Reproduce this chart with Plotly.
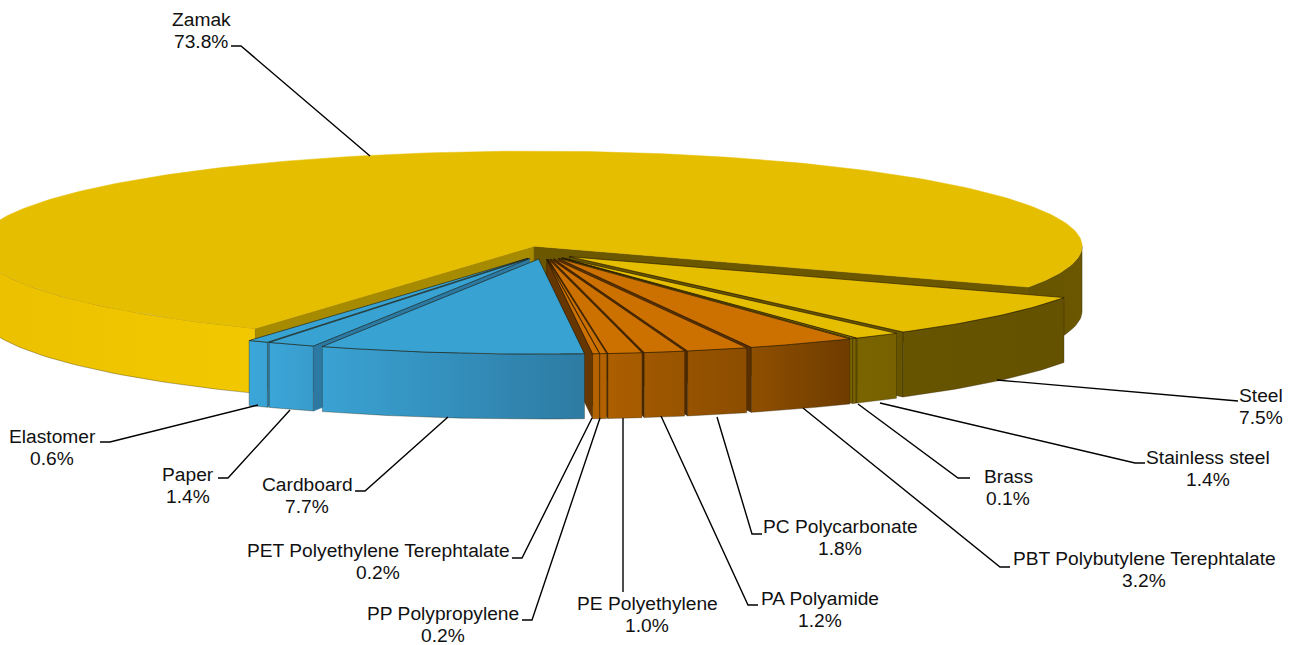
import math
import plotly.graph_objects as go

# ---- data ----
names = ["Zamak", "Steel", "Stainless steel", "Brass", "PBT Polybutylene Terephtalate",
         "PC Polycarbonate", "PA Polyamide", "PE Polyethylene", "PP Polypropylene",
         "PET Polyethylene Terephtalate", "Cardboard", "Paper", "Elastomer"]
values = [73.8, 7.5, 1.4, 0.1, 3.2, 1.8, 1.2, 1.0, 0.2, 0.2, 7.7, 1.4, 0.6]

# ---- styles: top, wall-left, wall-right, side face ----
Y = "#E6BE00"; O = "#CC7000"; B = "#38A3D3"
styles = [
    (Y, None, None, None),
    (Y, "#675400", "#645200", "#675400"),
    (Y, "#7A6400", "#786200", "#7A6400"),
    (Y, "#7C6500", "#7A6300", "#7A6400"),
    (O, "#8F4F00", "#6E3C00", "#5A3000"),
    (O, "#965300", "#8C4D00", "#4F2A00"),
    (O, "#A05800", "#985400", "#4F2A00"),
    (O, "#AD5F00", "#A65B00", "#5A3000"),
    (O, "#B36200", "#B06000", "#5A3000"),
    (O, "#B66400", "#B36200", "#653600"),
    (B, "#3AA2D3", "#2D7BA3", "#2C7AA3"),
    (B, "#3BA6D9", "#389CCB", "#2C7AA3"),
    (B, "#3BA6D9", "#3AA3D5", "#2C7AA3"),
]
draw_order = [0, 1, 2, 3, 4, 5, 6, 7, 8, 9, 12, 11, 10]

# ---- layout geometry of the drawing (pixels) ----
CX, CY, RX_R, RX_L, RY, DEPTH = 543.8, 252.5, 548, 556, 95, 65
EXPLODE_X, EXPLODE_Y = 0.06, 0.07
FIRST_END = 25.5      # angle, clockwise from +x, at which Zamak ends

# leader polylines and label centres
leaders = {
    "Zamak": ([(370, 156), (241, 46), (231, 46)], (201, 30)),
    "Steel": ([(997, 380), (1238, 401)], (1261, 406)),
    "Stainless steel": ([(880, 403), (1135, 463), (1145, 463)], (1208, 468)),
    "Brass": ([(858, 404), (958, 478), (970, 478)], (1008, 487)),
    "PBT Polybutylene Terephtalate": ([(803, 408), (1000, 567), (1010, 567)], (1144, 569)),
    "PC Polycarbonate": ([(717, 417), (752, 534), (762, 534)], (840, 537)),
    "PA Polyamide": ([(661, 416), (748, 605), (758, 605)], (820, 609)),
    "PE Polyethylene": ([(623, 418), (623, 592)], (647, 614)),
    "PP Polypropylene": ([(600, 418), (532, 620), (522, 620)], (443, 624)),
    "PET Polyethylene Terephtalate": ([(592, 418), (522, 558), (512, 558)], (378, 561)),
    "Cardboard": ([(448, 417), (365, 491), (355, 491)], (307, 495)),
    "Paper": ([(290, 410), (228, 478), (218, 478)], (188, 485)),
    "Elastomer": ([(258, 405), (110, 442), (100, 442)], (52, 447)),
}

# ---- slice angles from the values ----
total = sum(values)
spans = [v / total * 360 for v in values]
angles = []
a = FIRST_END - spans[0]
for s in spans:
    angles.append((a, a + s))
    a += s


def pt(ax, ay, ang):
    r = math.radians(ang)
    c = math.cos(r)
    return ax + (RX_R if c >= 0 else RX_L) * c, ay + RY * math.sin(r)


def arc(ax, ay, a0, a1):
    n = max(2, int(abs(a1 - a0)) + 2)
    return [pt(ax, ay, a0 + (a1 - a0) * i / (n - 1)) for i in range(n)]


def poly(points, color, line=None, grad=None, lw=0.6):
    xs = [p[0] for p in points] + [points[0][0]]
    ys = [p[1] for p in points] + [points[0][1]]
    kw = dict(x=xs, y=ys, mode="lines", fill="toself", hoverinfo="skip", showlegend=False,
              line=dict(color=line or color, width=lw))
    if grad:
        kw["fillgradient"] = dict(type="horizontal", colorscale=[[0, grad[0]], [1, grad[1]]])
    else:
        kw["fillcolor"] = color
    return go.Scatter(**kw)


fig = go.Figure()
edge = "rgba(40,30,0,0.55)"
for i in draw_order:
    a0, a1 = angles[i]
    top, wl, wr, face = styles[i]
    mid = math.radians((a0 + a1) / 2)
    ax = CX + EXPLODE_X * RX_R * math.cos(mid)
    ay = CY + EXPLODE_Y * RY * math.sin(mid)
    apex = (ax, ay)

    def prism(p, q, col, ln=None):
        fig.add_trace(poly([p, q, (q[0], q[1] + DEPTH), (p[0], p[1] + DEPTH)], col, line=ln or col, lw=0.6))

    if i == 0:
        # Zamak: the big notched slice, with its two cut faces inside the notch
        prism(apex, pt(ax, ay, a0), "#A68A00")
        prism(apex, pt(ax, ay, a1), "#6B5700")
        right = arc(ax, ay, 0, a1)
        left = arc(ax, ay, a0 + 360, 180)
        for seg, g in ((right, ("#665400", "#6B5700")), (left, ("#EBC100", "#F2C800"))):
            pts = seg + [(x, y + DEPTH) for x, y in reversed(seg)]
            fig.add_trace(poly(pts, g[0], line=edge, grad=g))
        fig.add_trace(poly([apex] + arc(ax, ay, a0, a1), top, lw=0.5))
    else:
        if math.cos(math.radians(a0)) < 0:
            prism(apex, pt(ax, ay, a0), face)
        if math.cos(math.radians(a1)) > 0:
            prism(apex, pt(ax, ay, a1), face, ln="rgba(40,25,0,0.8)")
        seg = arc(ax, ay, a0, a1)
        pts = seg + [(x, y + DEPTH) for x, y in reversed(seg)]
        fig.add_trace(poly(pts, wl, line=edge, grad=(wl, wr)))
        fig.add_trace(poly([apex] + seg, top, line="rgba(30,20,0,0.75)", lw=0.8))

# ---- leaders and labels ----
shapes, annots = [], []
font = dict(family="Liberation Sans, Arial", size=19.2, color="#111111")
for n, v in zip(names, values):
    pts, (lx, ly) = leaders[n]
    path = "M " + " L ".join(f"{x},{y}" for x, y in pts)
    shapes.append(dict(type="path", path=path, xref="x", yref="y",
                       line=dict(color="black", width=1.4)))
    for txt, dy in ((n, -11), (f"{v:.1f}%", 11)):
        annots.append(dict(x=lx, y=ly + dy, xref="x", yref="y", showarrow=False, align="center",
                           text=txt, xanchor="center", yanchor="middle", font=font))

fig.update_layout(
    width=1298, height=645, margin=dict(l=0, r=0, t=0, b=0),
    paper_bgcolor="white", plot_bgcolor="white", showlegend=False,
    xaxis=dict(range=[0, 1298], visible=False, fixedrange=True),
    yaxis=dict(range=[645, 0], visible=False, fixedrange=True),
    shapes=shapes, annotations=annots,
)
fig.write_html("out.html", config={"displayModeBar": False},
               post_script="document.body.style.margin='0';document.body.style.overflow='hidden';")
